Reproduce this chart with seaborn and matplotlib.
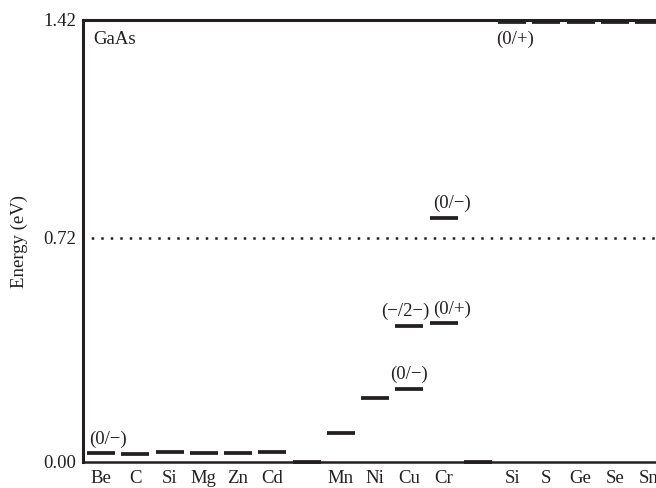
import pandas as pd
import matplotlib
matplotlib.use("Agg")
import matplotlib.pyplot as plt
import seaborn as sns

# Impurity sites along the x axis (blank slots separate the groups)
sites = ["Be", "C", "Si", "Mg", "Zn", "Cd", "", "Mn", "Ni", "Cu", "Cr", "",
         "Si", "S", "Ge", "Se", "Sn"]

# Energy levels (eV above the valence band), slot index of each level
level_slot = [0, 1, 2, 3, 4, 5, 6, 7, 8, 9, 9, 10, 10, 11,
              12, 13, 14, 15, 16]
level_energy = [0.028, 0.026, 0.032, 0.028, 0.030, 0.032, 0.0, 0.092, 0.205,
                0.235, 0.438, 0.445, 0.785, 0.0,
                1.414, 1.414, 1.414, 1.414, 1.414]

# Charge-state transition labels
trans_text = ["(0/\u2212)", "(0/\u2212)", "(\u2212/2\u2212)", "(0/+)",
              "(0/\u2212)", "(0/+)"]
trans_slot = [0, 9, 9, 10, 10, 12]
trans_energy = [0.028, 0.235, 0.438, 0.445, 0.785, 1.414]

gap = 1.42
midgap = 0.72
ink = "#231f20"

sns.set_theme(style="white")
plt.rcParams["font.family"] = ["Liberation Serif", "DejaVu Serif"]
plt.rcParams["text.color"] = ink
plt.rcParams["axes.labelcolor"] = ink
plt.rcParams["xtick.color"] = ink
plt.rcParams["ytick.color"] = ink

fig = plt.figure(figsize=(6.56, 4.88), dpi=100)
ax = fig.add_axes([83 / 656, 26 / 488, 1 - 83 / 656, 442 / 488])

df = pd.DataFrame({"slot": level_slot, "energy": level_energy})
sns.scatterplot(data=df, x="slot", y="energy", marker="_", s=380,
                linewidth=2.7, color=ink, ax=ax, clip_on=False, zorder=3)

# midgap dotted line
ax.axhline(midgap, color=ink, lw=1.8, linestyle=(0.5, (1, 2.8)))

# transition labels: offsets (points) per label
offsets = [(5, 4), (0, 4), (-3, 4), (6, 4), (6, 4), (2, -6)]
for txt, sl, en, off in zip(trans_text, trans_slot, trans_energy, offsets):
    va = "bottom" if off[1] > 0 else "top"
    ax.annotate(txt, xy=(sl, en), xytext=off, textcoords="offset points",
                ha="center", va=va, fontsize=13.5, color=ink)

ax.text(0.0175, 0.975, "GaAs", transform=ax.transAxes, ha="left", va="top",
        fontsize=13.5, color=ink)

ax.set_xlim(-0.526, 16.2)
ax.set_ylim(0, gap)
ax.set_xticks(range(len(sites)))
ax.set_xticklabels(sites, fontsize=13.5)
ax.set_yticks([0.0, midgap, gap])
ax.set_yticklabels(["0.00", "0.72", "1.42"], fontsize=13.5)
ax.tick_params(axis="both", length=0)
ax.tick_params(axis="x", pad=6)
ax.tick_params(axis="y", pad=5)
ax.set_xlabel("")
ax.set_ylabel("Energy (eV)", fontsize=13.5, labelpad=11)

for side in ["left", "top", "bottom"]:
    ax.spines[side].set_color(ink)
    ax.spines[side].set_linewidth(2.2)
ax.spines["bottom"].set_linewidth(1.8)
ax.spines["right"].set_visible(False)

fig.savefig("out.png", dpi=100)
